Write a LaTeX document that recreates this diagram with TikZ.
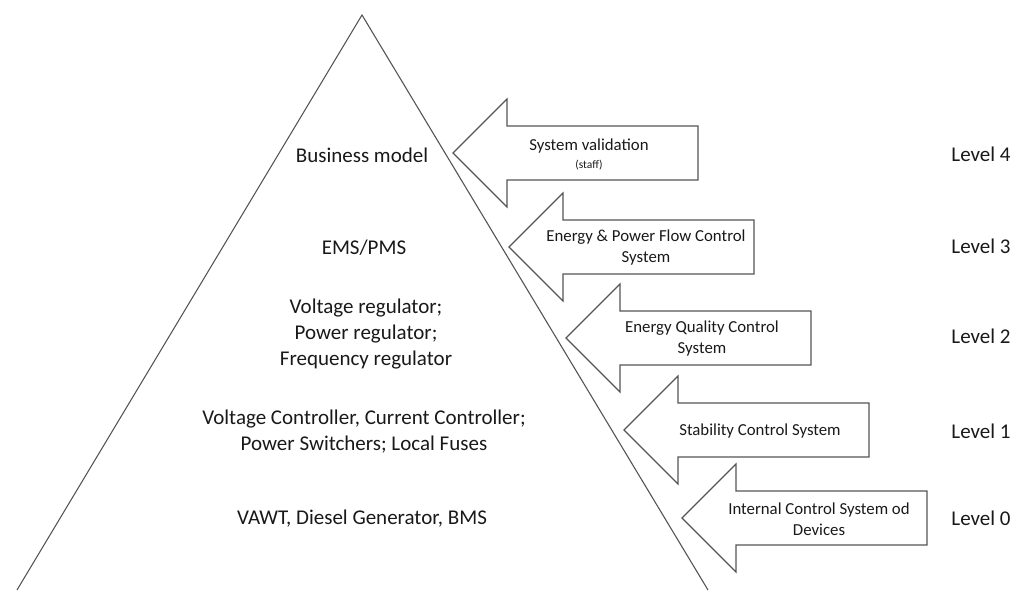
\documentclass[tikz,border=0pt]{standalone}
\usepackage{fontspec}
\setmainfont{Carlito}
\usetikzlibrary{positioning}
\definecolor{linegray}{RGB}{85,85,85}
\definecolor{textblack}{RGB}{25,25,25}
\tikzstyle{every path}=[line width=1.1pt]
\tikzstyle{levelarrow}=[draw=linegray, line join=miter]
\tikzstyle{tiertext}=[text=textblack, align=center, font=\fontsize{21}{26}\selectfont]
\tikzstyle{arrowtext}=[text=textblack, align=center, font=\fontsize{16.8}{21}\selectfont]
\tikzstyle{leveltext}=[text=textblack, font=\fontsize{21}{26}\selectfont]

\begin{document}
\begin{tikzpicture}[x=1pt, y=-1pt]
\useasboundingbox (0,0) rectangle (1026,590);
            % pyramid
            \coordinate (apex) at (362,15);
            \coordinate (baseleft) at (17,590);
            \coordinate (baseright) at (708,590);
            \draw[draw=linegray] (baseleft) -- (apex) -- (baseright);
            % arrows
            \draw[levelarrow] (453,153) -- ++(54,-54) -- ++(0,27) -- ++(191,0) -- ++(0,54) -- ++(-191,0) -- ++(0,27) -- cycle;
            \draw[levelarrow] (509,247) -- ++(54,-54) -- ++(0,27) -- ++(191,0) -- ++(0,54) -- ++(-191,0) -- ++(0,27) -- cycle;
            \draw[levelarrow] (566,338) -- ++(54,-54) -- ++(0,27) -- ++(191,0) -- ++(0,54) -- ++(-191,0) -- ++(0,27) -- cycle;
            \draw[levelarrow] (624,430) -- ++(54,-54) -- ++(0,27) -- ++(191,0) -- ++(0,54) -- ++(-191,0) -- ++(0,27) -- cycle;
            \draw[levelarrow] (682,518) -- ++(54,-54) -- ++(0,27) -- ++(191,0) -- ++(0,54) -- ++(-191,0) -- ++(0,27) -- cycle;
            % arrow texts
            \node[arrowtext] (validation) at (589,154) {System validation\\[-3pt]{\fontsize{11.5}{13}\selectfont (staff)}};
            \node[arrowtext] (powerflow) at (646,248) {Energy \& Power Flow Control\\System};
            \node[arrowtext] (quality) at (702,339) {Energy Quality Control\\System};
            \node[arrowtext] (stability) at (760,431) {Stability Control System};
            \node[arrowtext] (internal) at (819,519) {Internal Control System od\\Devices};
            % pyramid texts
            \node[tiertext] (business) at (362,155) {Business model};
            \node[tiertext] (ems) at (364,248) {EMS/PMS};
            \node[tiertext] (regulators) at (366,334) {Voltage regulator;\\Power regulator;\\Frequency regulator};
            \node[tiertext] (controllers) at (364,432) {Voltage Controller, Current Controller;\\Power Switchers; Local Fuses};
            \node[tiertext] (devices) at (362,519) {VAWT, Diesel Generator, BMS};
            % levels
            \node[leveltext] (levelfour) at (981,154) {Level 4};
            \node[leveltext] (levelthree) at (981,246) {Level 3};
            \node[leveltext] (leveltwo) at (981,336) {Level 2};
            \node[leveltext] (levelone) at (981,431) {Level 1};
            \node[leveltext] (levelzero) at (981,518) {Level 0};
        \end{tikzpicture}
\end{document}
